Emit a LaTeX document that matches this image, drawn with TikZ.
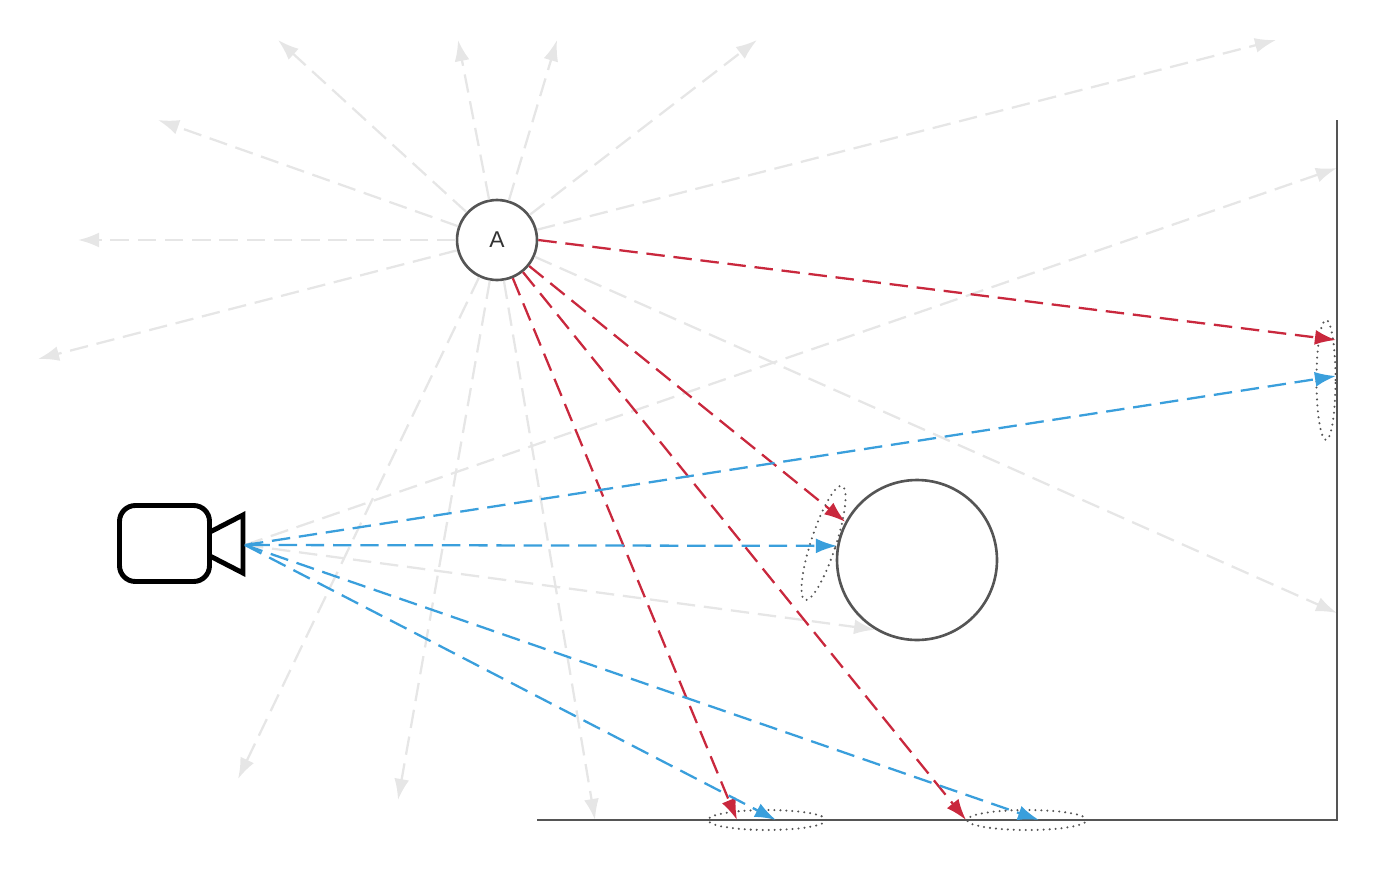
\documentclass[tikz,border=0pt]{standalone}
\usepackage{fontspec}
\setsansfont{Liberation Sans}
\usetikzlibrary{arrows.meta}
\definecolor{raygray}{HTML}{E6E6E6}
\definecolor{hitred}{HTML}{C9283D}
\definecolor{viewblue}{HTML}{3A9FDC}
\definecolor{edgegray}{HTML}{555555}
\begin{document}
\begin{tikzpicture}[>={Latex[length=12pt,width=8.5pt]}, x=0.02cm, y=-0.02cm,
  ray/.style={->, line width=1.3pt, dash pattern=on 10.5pt off 5pt},
  spot/.style={draw=edgegray, line width=1.3pt, line cap=round, dash pattern=on 0pt off 3.4pt}]
\useasboundingbox (0,0) rectangle (1378,872);
\node[circle, draw=edgegray, line width=1.5pt, minimum size=1.6cm, inner sep=0pt,
  font=\sffamily\fontsize{13}{15}\selectfont, text=black!80] (A) at (497,240) {A};
\node[circle, draw=edgegray, line width=1.5pt, minimum size=3.2cm] (sphere) at (917,560) {};
\node[draw, rounded corners=9pt, line width=2.8pt, minimum width=1.8cm, minimum height=1.52cm] (camera) at (164.5,543.5) {};
\draw[line width=2.8pt] (210,532) -- (243,515) -- (243,573) -- (210,556);
\coordinate (cam) at (245,545);
\foreach \x/\y [count=\i] in {278/40, 158/120, 78/240, 38/359, 458/40, 557/40, 757/40,
    1276/40, 238/779, 398/800, 595/820, 1337/613}
  {\coordinate (g\i) at (\x,\y);
   \draw[ray, raygray] (A) -- (g\i);}
\coordinate (w3) at (1337,168);
\draw[ray, raygray] (cam) -- (w3);
\draw[ray, raygray] (cam) -- (sphere.239);
\draw[line width=1.2pt, edgegray] (1337,120) -- (1337,820) -- (537,820);
\draw[spot] (1326,380) ellipse [x radius=0.19cm, y radius=1.2cm];
\draw[spot, rotate around={-18:(823.5,543)}] (823.5,543) ellipse [x radius=0.25cm, y radius=1.2cm];
\draw[spot] (767,820) ellipse [x radius=1.18cm, y radius=0.2cm];
\draw[spot] (1027,820) ellipse [x radius=1.2cm, y radius=0.2cm];
\coordinate (w1) at (1336,340);
\coordinate (f1) at (737,820);
\coordinate (f2) at (966,820);
\draw[ray, hitred] (A.east) -- (w1);
\draw[ray, hitred] (A) -- (sphere.152);
\draw[ray, hitred] (A) -- (f1);
\draw[ray, hitred] (A) -- (f2);
\coordinate (w2) at (1336,376);
\coordinate (f3) at (776,820);
\coordinate (f4) at (1039,820);
\draw[ray, viewblue] (cam) -- (w2);
\draw[ray, viewblue, {Latex[length=4pt,width=3.5pt]}->] (cam) -- (sphere.170);
\draw[ray, viewblue] (cam) -- (f3);
\draw[ray, viewblue] (cam) -- (f4);
\end{tikzpicture}
\end{document}
